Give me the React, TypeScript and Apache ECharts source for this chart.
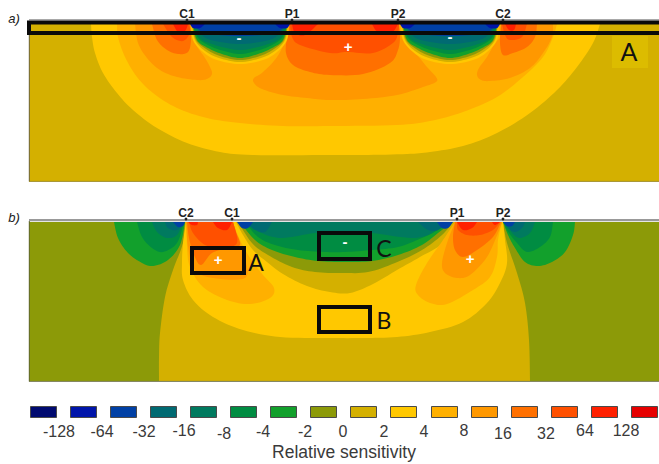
import React, { useEffect, useRef } from "react";
import * as echarts from "echarts";

type P = [number, number];

// colour classes, from -128 class to +128 class
const classColors = ["#000a70", "#0015aa", "#0040a5", "#006a72", "#007a5f", "#008c42", "#12a02c", "#8c9a08", "#d4b000", "#ffc800", "#ffb000", "#ff9800", "#ff7000", "#ff5000", "#ff2000", "#e60000"];
const classLabels = ["-128", "-64", "-32", "-16", "-8", "-4", "-2", "0", "2", "4", "8", "16", "32", "64", "128"];

// filled panels: [x0, y0, x1, y1, class]
const panels: number[][] = [
  [29, 24, 659, 181, 8],
  [29, 222, 659, 381, 7],
];

// panel a contours
const aOuter: P[] = [[91, 24], [92, 37], [95, 53], [103, 73], [117, 93], [133, 110], [157, 128], [187, 143], [220, 152], [253, 155], [330, 155], [363, 155], [407, 154], [430, 152], [463, 146], [497, 133], [530, 113], [557, 90], [577, 67], [593, 43], [600, 24]];
const aMid: P[] = [[117, 24], [118, 37], [125, 57], [137, 77], [153, 93], [177, 108], [207, 118], [240, 123], [283, 126], [330, 126], [397, 125], [430, 121], [463, 112], [497, 97], [523, 77], [543, 57], [553, 37], [557, 24]];
const aLobeL1: P[] = [[135, 24], [138, 43], [147, 58], [160, 70], [177, 77], [197, 80], [207, 79], [212, 74], [210, 67], [205, 58], [198, 48], [192, 37], [190, 24]];
const aLobeR1: P[] = [[553, 24], [552, 37], [543, 53], [530, 68], [510, 78], [490, 81], [481, 80], [477, 75], [479, 68], [487, 57], [495, 43], [500, 37], [502, 24]];
const aLobeC1: P[] = [[290, 24], [287, 37], [277, 57], [263, 72], [254, 78], [254, 83], [262, 89], [283, 95], [307, 98], [330, 100], [363, 99], [397, 95], [423, 87], [436, 82], [436, 77], [427, 67], [413, 50], [403, 40], [398, 24]];
const aLobeL2: P[] = [[152, 24], [157, 40], [167, 50], [178, 54], [188, 52], [191, 40], [190, 24]];
const aLobeR2: P[] = [[537, 24], [535, 37], [527, 47], [513, 53], [503, 55], [500, 43], [501, 24]];
const aLobeC2: P[] = [[289, 24], [287, 37], [286, 53], [293, 65], [310, 72], [330, 75], [363, 74], [390, 63], [398, 50], [400, 37], [399, 24]];
const aLobeL3: P[] = [[163, 24], [172, 37], [183, 41], [190, 33], [189, 24]];
const aLobeR3: P[] = [[527, 24], [522, 37], [510, 40], [505, 35], [502, 24]];
const aLobeC3: P[] = [[290, 24], [292, 37], [300, 45], [330, 53], [347, 52], [373, 53], [393, 43], [398, 33], [399, 24]];
const aRedL: P[] = [[173, 24], [178, 32], [185, 31], [188, 24]];
const aRedR: P[] = [[505, 24], [509, 30], [514, 30], [516, 24]];
const aRedC1: P[] = [[292, 24], [295, 33], [305, 35], [318, 24]];
const aRedC2: P[] = [[372, 24], [378, 32], [392, 32], [398, 24]];

const aBowlL1: P[] = [[191, 24], [193, 40], [203, 52], [217, 60], [240, 64], [263, 60], [277, 52], [287, 40], [289, 24]];
const aBowlL2: P[] = [[192, 24], [195, 40], [205, 51], [219, 58], [240, 62], [261, 58], [275, 51], [285, 40], [288, 24]];
const aBowlL3: P[] = [[192, 24], [196, 40], [206, 49], [220, 56], [240, 60], [260, 56], [274, 49], [284, 40], [288, 24]];
const aBowlL4: P[] = [[193, 24], [197, 40], [208, 48], [222, 54], [240, 58], [258, 54], [272, 48], [283, 40], [287, 24]];
const aBowlL5: P[] = [[193, 24], [198, 38], [210, 46], [224, 51], [240, 54], [256, 51], [270, 46], [282, 38], [287, 24]];
const aBowlL6: P[] = [[194, 24], [200, 38], [212, 44], [226, 48], [240, 50], [254, 48], [268, 44], [280, 38], [286, 24]];
const aBowlL7: P[] = [[194, 24], [203, 36], [215, 41], [240, 44], [265, 41], [277, 36], [286, 24]];
const aBowlL8: P[] = [[195, 24], [205, 33], [240, 36], [275, 33], [285, 24]];
const aBowlL9a: P[] = [[190, 24], [193, 28], [200, 28], [205, 24]];
const aBowlL9b: P[] = [[275, 24], [280, 28], [287, 28], [290, 24]];

const aBowlR1: P[] = [[401, 24], [403, 40], [413, 52], [427, 60], [450, 64], [473, 60], [487, 52], [497, 40], [499, 24]];
const aBowlR2: P[] = [[402, 24], [405, 40], [415, 51], [429, 58], [450, 62], [471, 58], [485, 51], [495, 40], [498, 24]];
const aBowlR3: P[] = [[402, 24], [406, 40], [416, 49], [430, 56], [450, 60], [470, 56], [484, 49], [494, 40], [498, 24]];
const aBowlR4: P[] = [[403, 24], [407, 40], [418, 48], [432, 54], [450, 58], [468, 54], [482, 48], [493, 40], [497, 24]];
const aBowlR5: P[] = [[403, 24], [408, 38], [420, 46], [434, 51], [450, 54], [466, 51], [480, 46], [492, 38], [497, 24]];
const aBowlR6: P[] = [[404, 24], [410, 38], [422, 44], [436, 48], [450, 50], [464, 48], [478, 44], [490, 38], [496, 24]];
const aBowlR7: P[] = [[404, 24], [413, 36], [425, 41], [450, 44], [475, 41], [487, 36], [496, 24]];
const aBowlR8: P[] = [[405, 24], [415, 33], [450, 36], [485, 33], [495, 24]];
const aBowlR9a: P[] = [[400, 24], [403, 28], [410, 28], [415, 24]];
const aBowlR9b: P[] = [[485, 24], [490, 28], [497, 28], [500, 24]];

// panel b contours (a repeated point marks a sharp corner)
const bCentre: P[] = [[185, 222], [183, 243], [173, 270], [165, 297], [160, 333], [159, 357], [159, 381], [159, 381], [530, 381], [530, 381], [529, 340], [525, 303], [517, 273], [507, 243], [503, 222]];
const bYellow: P[] = [[186, 222], [183, 243], [182, 263], [183, 280], [193, 300], [213, 317], [243, 330], [280, 337], [330, 338], [363, 338], [397, 337], [430, 332], [463, 322], [487, 303], [500, 283], [507, 263], [505, 240], [503, 222]];
const bMid1: P[] = [[236, 222], [243, 235], [253, 250], [267, 262], [283, 274], [307, 286], [330, 292], [350, 293], [373, 284], [397, 270], [420, 257], [443, 243], [456, 222]];
const bMid2: P[] = [[238, 222], [252, 243], [268, 255], [292, 267], [315, 272], [342, 273], [368, 272], [395, 263], [422, 250], [442, 235], [453, 222]];
const bMid3: P[] = [[240, 222], [255, 240], [272, 250], [295, 257], [318, 261], [345, 262], [372, 261], [398, 255], [422, 245], [438, 233], [452, 222]];
const bMid4: P[] = [[245, 222], [258, 237], [275, 245], [298, 250], [325, 252], [345, 252], [372, 250], [398, 247], [422, 238], [438, 230], [450, 222]];
const bMid5: P[] = [[250, 222], [262, 233], [282, 238], [315, 233], [345, 232], [372, 233], [412, 238], [432, 233], [442, 222]];
const bMid6a: P[] = [[245, 222], [255, 230], [265, 232], [272, 222]];
const bMid6b: P[] = [[418, 222], [428, 230], [438, 230], [447, 222]];
const bMid7a: P[] = [[237, 222], [242, 228], [248, 228], [253, 222]];
const bMid7b: P[] = [[437, 222], [442, 228], [448, 228], [453, 222]];

const bSideL1: P[] = [[114, 222], [118, 238], [128, 253], [142, 263], [153, 266], [168, 260], [180, 245], [185, 222]];
const bSideL2: P[] = [[137, 222], [142, 237], [152, 248], [163, 252], [177, 243], [184, 222]];
const bSideL3: P[] = [[152, 222], [157, 232], [167, 238], [177, 235], [183, 222]];
const bSideL4: P[] = [[165, 222], [168, 228], [177, 230], [183, 222]];
const bSideL5: P[] = [[173, 222], [178, 227], [183, 226], [185, 222]];
const bSideR1: P[] = [[575, 222], [573, 235], [565, 252], [552, 262], [538, 266], [525, 262], [515, 248], [508, 235], [503, 222]];
const bSideR2: P[] = [[553, 222], [550, 237], [540, 247], [527, 252], [517, 243], [507, 230], [504, 222]];
const bSideR3: P[] = [[535, 222], [530, 233], [520, 238], [512, 233], [505, 222]];
const bSideR4: P[] = [[525, 222], [522, 228], [515, 232], [508, 228], [503, 222]];
const bSideR5: P[] = [[515, 222], [512, 226], [507, 226], [503, 222]];

const bHotL1: P[] = [[187, 222], [187, 247], [190, 267], [203, 287], [227, 300], [250, 304], [270, 298], [274, 288], [263, 275], [250, 258], [240, 240], [233, 222]];
const bHotL2: P[] = [[186, 222], [188, 247], [195, 270], [213, 278], [245, 278], [245, 258], [238, 240], [233, 222]];
const bHotL3: P[] = [[187, 222], [189, 238], [194, 255], [201, 265], [212, 253], [228, 248], [240, 245], [236, 232], [233, 222]];
const bHotL4: P[] = [[189, 222], [193, 233], [205, 245], [222, 248], [237, 243], [233, 222]];
const bHotL5a: P[] = [[213, 222], [218, 228], [227, 230], [232, 222]];
const bHotL5b: P[] = [[188, 222], [192, 225], [197, 225], [198, 222]];
const bHotR1: P[] = [[455, 222], [443, 240], [427, 263], [416, 285], [418, 295], [430, 303], [447, 304], [473, 290], [490, 277], [497, 257], [498, 240], [502, 222]];
const bHotR2: P[] = [[455, 222], [447, 243], [442, 263], [445, 273], [457, 278], [470, 275], [487, 257], [498, 233], [502, 222]];
const bHotR3: P[] = [[455, 222], [453, 237], [455, 250], [463, 257], [477, 250], [493, 237], [501, 222]];
const bHotR4: P[] = [[457, 222], [458, 230], [467, 235], [480, 235], [493, 230], [500, 222]];
const bHotR5a: P[] = [[457, 222], [463, 230], [472, 228], [477, 222]];
const bHotR5b: P[] = [[492, 222], [495, 225], [500, 222]];

// [class, contour], painted in this order
const contours: [number, P[]][] = [
  [9, aOuter], [10, aMid], [11, aLobeL1], [11, aLobeR1], [11, aLobeC1],
  [12, aLobeL2], [12, aLobeR2], [12, aLobeC2], [13, aLobeL3], [13, aLobeR3], [13, aLobeC3],
  [14, aRedL], [14, aRedR], [14, aRedC1], [14, aRedC2],
  [9, aBowlL1], [8, aBowlL2], [7, aBowlL3], [6, aBowlL4], [5, aBowlL5], [4, aBowlL6], [3, aBowlL7], [2, aBowlL8], [1, aBowlL9a], [1, aBowlL9b],
  [9, aBowlR1], [8, aBowlR2], [7, aBowlR3], [6, aBowlR4], [5, aBowlR5], [4, aBowlR6], [3, aBowlR7], [2, aBowlR8], [1, aBowlR9a], [1, aBowlR9b],
  [8, bCentre], [9, bYellow], [8, bMid1], [7, bMid2], [6, bMid3], [5, bMid4], [4, bMid5], [3, bMid6a], [3, bMid6b], [2, bMid7a], [2, bMid7b],
  [6, bSideL1], [5, bSideL2], [4, bSideL3], [3, bSideL4], [2, bSideL5],
  [6, bSideR1], [5, bSideR2], [4, bSideR3], [3, bSideR4], [2, bSideR5],
  [10, bHotL1], [11, bHotL2], [12, bHotL3], [13, bHotL4], [14, bHotL5a], [14, bHotL5b],
  [10, bHotR1], [11, bHotR2], [12, bHotR3], [13, bHotR4], [14, bHotR5a], [14, bHotR5b],
];

// outlined selection boxes: [x0, y0, x1, y1]
const boxes: number[][] = [
  [29, 22.5, 670, 33],
  [192, 248, 244, 273],
  [319, 233, 370, 259],
  [319, 307, 370, 332],
];

const electrodes: [string, number, number][] = [
  ["C1", 187, 14], ["P1", 292, 14], ["P2", 398, 14], ["C2", 503, 14],
  ["C2", 186, 213], ["C1", 232, 213], ["P1", 457, 213], ["P2", 503, 213],
];
const electrodeDots: P[] = [[187, 20], [292, 20], [398, 20], [503, 20], [186, 219], [232, 219], [457, 219], [503, 219]];
const signs: [string, number, number][] = [
  ["-", 239, 37], ["+", 348, 46], ["-", 450, 36],
  ["+", 218, 259], ["-", 345, 241], ["+", 470, 258],
];
const boxNames: [string, number, number, number][] = [
  ["A", 629, 51, 25], ["A", 256, 262, 23], ["C", 384, 248, 23], ["B", 384, 320, 23],
];
const labelCentres = [59, 102, 144, 184, 224, 263, 305, 343, 384, 424, 464, 503, 546, 585, 626];
const labelRows = [431, 431, 431, 430, 433, 431, 431, 431, 431, 431, 430, 433, 433, 430, 430];
const swatchLefts = [30, 70, 110, 150, 190, 230, 270, 310, 350, 390, 431, 471, 511, 551, 591, 631];

function smoothRun(pts: number[][]): number[][] {
  const out: number[][] = [];
  for (let i = 0; i < pts.length - 1; i++) {
    const a = pts[Math.max(i - 1, 0)], b = pts[i], c = pts[i + 1], d = pts[Math.min(i + 2, pts.length - 1)];
    for (let k = 0; k < 8; k++) {
      const t = k / 8, t2 = t * t, t3 = t2 * t;
      out.push([0, 1].map((j) => 0.5 * (2 * b[j] + (c[j] - a[j]) * t + (2 * a[j] - 5 * b[j] + 4 * c[j] - d[j]) * t2 + (3 * b[j] - a[j] - 3 * c[j] + d[j]) * t3)));
    }
  }
  out.push(pts[pts.length - 1]);
  return out;
}

// a repeated point splits the contour into separately smoothed runs
function smoothCurve(pts: number[][]): number[][] {
  const runs: number[][][] = [[pts[0]]];
  for (let i = 1; i < pts.length; i++) {
    if (pts[i][0] === pts[i - 1][0] && pts[i][1] === pts[i - 1][1]) runs.push([]);
    runs[runs.length - 1].push(pts[i]);
  }
  return runs.flatMap(smoothRun);
}

const textEl = (text: string, x: number, y: number, font: string, fill: string) => ({
  type: "text", x, y, z: 100, silent: true,
  style: { text, font, fill, textAlign: "center", textVerticalAlign: "middle" },
});
const lineEl = (x1: number, y1: number, x2: number, y2: number, stroke: string, lineWidth: number) => ({
  type: "line", z: 4, silent: true, shape: { x1, y1, x2, y2 }, style: { stroke, lineWidth },
});

export default function App() {
  const ref = useRef<HTMLDivElement>(null);
  useEffect(() => {
    document.body.style.margin = "0";
    const chart = echarts.init(ref.current!, null, { renderer: "svg" });
    const rectFrom = (api: any, r: number[]) => {
      const p0 = api.coord([r[0], r[1]]);
      const p1 = api.coord([r[2], r[3]]);
      return { x: p0[0], y: p0[1], width: p1[0] - p0[0], height: p1[1] - p0[1] };
    };
    chart.setOption({
      animation: false,
      backgroundColor: "#ffffff",
      grid: { left: 0, right: 0, top: 0, bottom: 0 },
      xAxis: { type: "value", min: 0, max: 659, show: false },
      yAxis: { type: "value", min: 0, max: 464, inverse: true, show: false },
      graphic: {
        elements: [
          { type: "rect", z: 3, silent: true, shape: { x: 612, y: 36, width: 36, height: 32 }, style: { fill: "#dcbc00" } },
          lineEl(29, 19.8, 659, 19.8, "#a8a8a8", 1.5),
          lineEl(29, 220.2, 659, 220.2, "#999999", 2.2),
          lineEl(29.3, 24, 29.3, 181.5, "#6b6540", 1),
          lineEl(29, 181.4, 659, 181.4, "#a08c20", 1),
          lineEl(29.3, 221, 29.3, 381.5, "#5f6630", 1),
          lineEl(29, 381.4, 659, 381.4, "#777a50", 1),
          textEl("a)", 14, 18, "italic 13px 'Liberation Sans'", "#222222"),
          textEl("b)", 14, 217, "italic 13px 'Liberation Sans'", "#222222"),
          ...electrodes.map(([t, x, y]) => textEl(t, x, y, "bold 12px 'Liberation Sans'", "#222222")),
          ...signs.map(([t, x, y]) => textEl(t, x, y, "bold 15px 'Liberation Sans'", "#ffffff")),
          ...boxNames.map(([t, x, y, s]) => textEl(t, x, y, `${s}px Lato`, "#111111")),
          ...classLabels.map((t, i) => textEl(t, labelCentres[i], labelRows[i], "16px 'Liberation Sans'", "#3a3a3a")),
          textEl("Relative sensitivity", 344, 452, "17.5px 'Liberation Sans'", "#3a3a3a"),
        ],
      },
      series: [
        {
          type: "custom", silent: true, clip: false, z: 2,
          data: panels.map((_, i) => [i]),
          renderItem: (params: any, api: any) => {
            const r = panels[params.dataIndex];
            return { type: "rect", shape: rectFrom(api, r), style: { fill: classColors[r[4]] } };
          },
        },
        {
          type: "custom", silent: true, clip: false, z: 2,
          data: contours.map((_, i) => [i]),
          renderItem: (params: any, api: any) => {
            const [cls, pts] = contours[params.dataIndex];
            return {
              type: "polygon",
              shape: { points: smoothCurve(pts.map((p) => api.coord(p))) },
              style: { fill: classColors[cls] },
            };
          },
        },
        {
          type: "custom", silent: true, clip: false, z: 5,
          data: boxes.map((_, i) => [i]),
          renderItem: (params: any, api: any) => ({
            type: "rect",
            shape: rectFrom(api, boxes[params.dataIndex]),
            style: { fill: "none", stroke: "#0a0a0a", lineWidth: 4 },
          }),
        },
        {
          type: "custom", silent: true, clip: false, z: 6,
          data: electrodeDots.map((_, i) => [i]),
          renderItem: (params: any, api: any) => {
            const c = api.coord(electrodeDots[params.dataIndex]);
            return { type: "circle", shape: { cx: c[0], cy: c[1], r: 1.4 }, style: { fill: "#222222" } };
          },
        },
        {
          type: "custom", silent: true, clip: false, z: 5,
          data: swatchLefts.map((_, i) => [i]),
          renderItem: (params: any, api: any) => {
            const left = swatchLefts[params.dataIndex];
            return {
              type: "rect",
              shape: rectFrom(api, [left + 0.5, 406.5, left + 26.5, 417.5]),
              style: { fill: classColors[params.dataIndex], stroke: "#4a4a4a", lineWidth: 1 },
            };
          },
        },
      ],
    });
    return () => chart.dispose();
  }, []);
  return <div ref={ref} style={{ width: 659, height: 464 }} />;
}
